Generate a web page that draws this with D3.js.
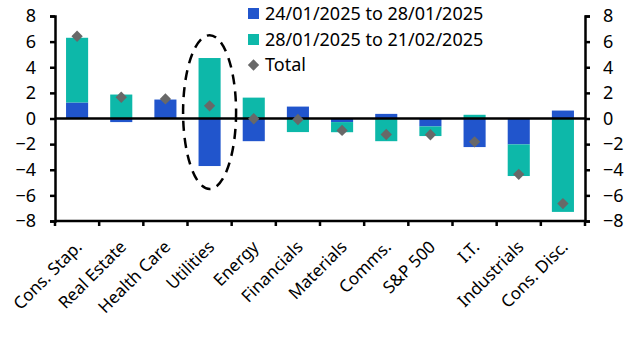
<!DOCTYPE html>
<html><head><meta charset="utf-8">
<script src="https://cdn.jsdelivr.net/npm/d3@7"></script>
<style>body{margin:0;background:#fff;} text{font-family:"Noto Sans",sans-serif;fill:#000;}</style>
</head><body>
<svg id="c" width="627" height="337"></svg>
<script>
const categories = ["Cons. Stap.","Real Estate","Health Care","Utilities","Energy","Financials","Materials","Comms.","S&P 500","I.T.","Industrials","Cons. Disc."];
const series1 = [1.25, -0.28, 1.48, -3.71, -1.77, 0.93, -0.28, 0.36, -0.62, -2.23, -2.02, 0.62];
const series2 = [5.05, 1.87, 0.0, 4.72, 1.63, -1.06, -0.79, -1.77, -0.75, 0.29, -2.47, -7.29];
const totals = [6.42, 1.66, 1.53, 0.99, -0.02, -0.08, -0.93, -1.25, -1.27, -1.82, -4.36, -6.64];
const seriesNames = ["24/01/2025 to 28/01/2025","28/01/2025 to 21/02/2025","Total"];
const yTicks = [-8,-6,-4,-2,0,2,4,6,8];
const colors = ["#2155cc","#0db8a9","#686868"];

const svg = d3.select("#c");
const L = 55, R = 585, T = 16, B = 221;
const x = d3.scaleBand().domain(categories).range([L, R]).paddingInner(0.5).paddingOuter(0.25);
const y = d3.scaleLinear().domain([-8, 8]).range([B, T]);

const rows = categories.map((c, i) => ({cat: c, s1: series1[i], s2: series2[i]}));
const stack = d3.stack().keys(["s1","s2"]).offset(d3.stackOffsetDiverging);
const stacked = stack(rows);

stacked.forEach((layer, k) => {
  svg.append("g").selectAll("rect").data(layer).join("rect")
    .attr("x", d => x(d.data.cat))
    .attr("width", x.bandwidth())
    .attr("y", d => y(Math.max(d[0], d[1])))
    .attr("height", d => Math.abs(y(d[0]) - y(d[1])))
    .attr("fill", colors[k]);
});

// zero line
svg.append("line").attr("x1", L).attr("x2", R).attr("y1", y(0)).attr("y2", y(0))
  .attr("stroke", "#000").attr("stroke-width", 2.5);

// diamonds
svg.append("g").selectAll("path").data(totals).join("path")
  .attr("d", d3.symbol().type(d3.symbolSquare).size(64))
  .attr("transform", (d, i) => `translate(${x(categories[i]) + x.bandwidth()/2},${y(d)}) rotate(45)`)
  .attr("fill", colors[2]);

// ellipse around Utilities
svg.append("ellipse")
  .attr("cx", x("Utilities") + x.bandwidth()/2)
  .attr("cy", y(0.5))
  .attr("rx", x.step() * 0.6)
  .attr("ry", y(0) - y(6))
  .attr("fill", "none").attr("stroke", "#000").attr("stroke-width", 2.5)
  .attr("stroke-dasharray", "10,7");

// axes
const yl = svg.append("g").attr("transform", `translate(${L},0)`)
  .call(d3.axisLeft(y).tickValues(yTicks).tickSize(5).tickPadding(14));
const yr = svg.append("g").attr("transform", `translate(${R},0)`)
  .call(d3.axisRight(y).tickValues(yTicks).tickSize(5).tickPadding(13));
[yl, yr].forEach(g => {
  g.select(".domain").attr("stroke-width", 2.5);
  g.selectAll(".tick line").attr("stroke-width", 2.5);
  g.selectAll("text").style("font-size", "18px").attr("font-family", null);
});
yr.selectAll("text").attr("text-anchor", "start");

// bottom axis line with ticks at band boundaries
const xb = svg.append("g");
xb.append("line").attr("x1", L).attr("x2", R).attr("y1", B).attr("y2", B)
  .attr("stroke", "#000").attr("stroke-width", 2.5);
const bounds = categories.map(c => x(c) - (x.step() - x.bandwidth())/2).concat([R]);
xb.selectAll("line.t").data(bounds).join("line").attr("class","t")
  .attr("x1", d => d).attr("x2", d => d).attr("y1", B).attr("y2", B + 5)
  .attr("stroke", "#000").attr("stroke-width", 2.5);
xb.selectAll("text").data(categories).join("text")
  .attr("transform", c => `translate(${x(c) + x.bandwidth()/2 + 6},${B + 27}) rotate(-45)`)
  .attr("text-anchor", "end")
  .style("font-size", "17px")
  .text(c => c);

// legend
const lg = svg.append("g");
const lx = 248, ly = [13.5, 39.5, 65];
[0,1].forEach(k => {
  lg.append("rect").attr("x", lx).attr("y", ly[k] - 5.5).attr("width", 11).attr("height", 11).attr("fill", colors[k]);
});
lg.append("path").attr("d", d3.symbol().type(d3.symbolSquare).size(64))
  .attr("transform", `translate(${lx + 5.5},${ly[2]}) rotate(45)`).attr("fill", colors[2]);
seriesNames.forEach((n, k) => {
  lg.append("text").attr("x", 265).attr("y", ly[k]).attr("dy", "0.35em")
    .style("font-size", "18px").text(n);
});
</script>
</body></html>
